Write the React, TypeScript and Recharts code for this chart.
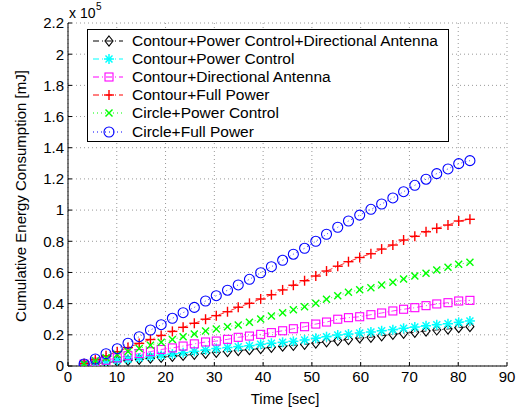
import { LineChart, Line, XAxis, YAxis, CartesianGrid } from "recharts"

// sample times [sec]
const times = [
  3.3, 5.6, 7.8, 10.1, 12.3, 14.6, 16.9, 19.1, 21.4, 23.6, 25.9, 28.2,
  30.4, 32.7, 34.9, 37.2, 39.5, 41.7, 44.0, 46.2, 48.5, 50.8, 53.0, 55.3,
  57.5, 59.8, 62.1, 64.3, 66.6, 68.8, 71.1, 73.4, 75.6, 77.9, 80.1, 82.4,
]

// energy values, in units of 1e5 mJ
const contourPcDa = [
  0.008, 0.015, 0.022, 0.029, 0.036, 0.043, 0.05, 0.056, 0.062, 0.068, 0.075, 0.081,
  0.088, 0.093, 0.099, 0.105, 0.112, 0.12, 0.127, 0.133, 0.139, 0.147, 0.155, 0.163,
  0.17, 0.18, 0.184, 0.194, 0.203, 0.21, 0.216, 0.224, 0.231, 0.237, 0.246, 0.252,
]
const contourPc = [
  0.012, 0.02, 0.028, 0.036, 0.044, 0.052, 0.06, 0.068, 0.076, 0.085, 0.094, 0.103,
  0.112, 0.118, 0.124, 0.13, 0.139, 0.146, 0.152, 0.158, 0.167, 0.178, 0.188, 0.199,
  0.205, 0.212, 0.218, 0.226, 0.233, 0.242, 0.25, 0.258, 0.265, 0.271, 0.28, 0.289,
]
const contourDa = [
  0.012, 0.025, 0.037, 0.052, 0.066, 0.08, 0.092, 0.106, 0.116, 0.128, 0.142, 0.154,
  0.16, 0.171, 0.184, 0.192, 0.203, 0.214, 0.226, 0.239, 0.252, 0.269, 0.282, 0.3,
  0.31, 0.316, 0.329, 0.34, 0.353, 0.364, 0.374, 0.387, 0.398, 0.406, 0.417, 0.421,
]
const contourFull = [
  0.015, 0.04, 0.065, 0.092, 0.118, 0.145, 0.17, 0.196, 0.222, 0.248, 0.274, 0.3,
  0.323, 0.348, 0.377, 0.402, 0.43, 0.457, 0.488, 0.518, 0.547, 0.577, 0.609, 0.64,
  0.669, 0.696, 0.72, 0.75, 0.776, 0.808, 0.832, 0.861, 0.883, 0.904, 0.93, 0.941,
]
const circlePc = [
  0.013, 0.033, 0.053, 0.073, 0.093, 0.113, 0.133, 0.153, 0.17, 0.188, 0.206, 0.224,
  0.237, 0.252, 0.263, 0.28, 0.301, 0.321, 0.342, 0.361, 0.38, 0.402, 0.428, 0.451,
  0.473, 0.489, 0.502, 0.52, 0.537, 0.558, 0.577, 0.595, 0.616, 0.633, 0.652, 0.665,
]
const circleFull = [
  0.013, 0.045, 0.079, 0.111, 0.146, 0.188, 0.231, 0.265, 0.306, 0.342, 0.376, 0.417,
  0.451, 0.486, 0.52, 0.556, 0.598, 0.637, 0.678, 0.717, 0.755, 0.8, 0.845, 0.89,
  0.93, 0.968, 1.005, 1.039, 1.078, 1.118, 1.159, 1.198, 1.234, 1.264, 1.298, 1.317,
]

const xTicks = [0, 10, 20, 30, 40, 50, 60, 70, 80, 90]
const yTicks = [0, 0.2, 0.4, 0.6, 0.8, 1, 1.2, 1.4, 1.6, 1.8, 2, 2.2]

type Shape = "diamond" | "star" | "square" | "plus" | "x" | "circle"

const SERIES: { key: string; name: string; color: string; shape: Shape; dash: string; values: number[] }[] = [
  { key: "a", name: "Contour+Power Control+Directional Antenna", color: "#000000", shape: "diamond", dash: "6 3 1 3", values: contourPcDa },
  { key: "b", name: "Contour+Power Control", color: "#00ffff", shape: "star", dash: "6 3 1 3", values: contourPc },
  { key: "c", name: "Contour+Directional Antenna", color: "#ff00ff", shape: "square", dash: "6 3 1 3", values: contourDa },
  { key: "d", name: "Contour+Full Power", color: "#ff0000", shape: "plus", dash: "6 3 1 3", values: contourFull },
  { key: "e", name: "Circle+Power Control", color: "#00ff00", shape: "x", dash: "1 3", values: circlePc },
  { key: "f", name: "Circle+Full Power", color: "#0000ff", shape: "circle", dash: "1 3", values: circleFull },
]

const data = times.map((t, i) => {
  const row: Record<string, number> = { t }
  SERIES.forEach((s) => (row[s.key] = s.values[i]))
  return row
})

const FONT = "'Liberation Sans', Arial, Helvetica, sans-serif"

function Marker({ shape, color, cx, cy }: { shape: Shape; color: string; cx: number; cy: number }) {
  const sw = 1.1
  switch (shape) {
    case "diamond":
      return <polygon points={`${cx},${cy - 5} ${cx + 4},${cy} ${cx},${cy + 5} ${cx - 4},${cy}`} fill="none" stroke={color} strokeWidth={sw} />
    case "square":
      return <rect x={cx - 4} y={cy - 4} width={8} height={8} fill="none" stroke={color} strokeWidth={sw} />
    case "circle":
      return <circle cx={cx} cy={cy} r={5} fill="none" stroke={color} strokeWidth={sw} />
    case "plus":
      return (
        <g stroke={color} strokeWidth={1.4}>
          <line x1={cx - 5} y1={cy} x2={cx + 5} y2={cy} />
          <line x1={cx} y1={cy - 5} x2={cx} y2={cy + 5} />
        </g>
      )
    case "x":
      return (
        <g stroke={color} strokeWidth={1.4}>
          <line x1={cx - 3.5} y1={cy - 3.5} x2={cx + 3.5} y2={cy + 3.5} />
          <line x1={cx - 3.5} y1={cy + 3.5} x2={cx + 3.5} y2={cy - 3.5} />
        </g>
      )
    case "star":
      return (
        <g stroke={color} strokeWidth={1.5}>
          <line x1={cx - 5} y1={cy} x2={cx + 5} y2={cy} />
          <line x1={cx} y1={cy - 5} x2={cx} y2={cy + 5} />
          <line x1={cx - 3.5} y1={cy - 3.5} x2={cx + 3.5} y2={cy + 3.5} />
          <line x1={cx - 3.5} y1={cy + 3.5} x2={cx + 3.5} y2={cy - 3.5} />
        </g>
      )
  }
  return null
}

function makeDot(shape: Shape, color: string) {
  return (props: any) => {
    const { cx, cy, index } = props
    if (cx == null || cy == null) return <g key={index} />
    return (
      <g key={index}>
        <Marker shape={shape} color={color} cx={cx} cy={cy} />
      </g>
    )
  }
}

function LegendBox() {
  return (
    <div
      style={{
        position: "absolute",
        left: 87,
        top: 29,
        width: 362,
        height: 113,
        border: "1px solid #000",
        background: "#fff",
        boxSizing: "border-box",
        paddingTop: 2,
        fontFamily: FONT,
        fontSize: 15.5,
      }}
    >
      {SERIES.map((s) => (
        <div key={s.key} style={{ height: 18.1, display: "flex", alignItems: "center" }}>
          <svg width={44} height={18} style={{ flex: "none" }}>
            <line x1={5} y1={9} x2={35} y2={9} stroke={s.color} strokeWidth={1} strokeDasharray={s.dash} />
            <Marker shape={s.shape} color={s.color} cx={21} cy={9} />
          </svg>
          <span style={{ whiteSpace: "nowrap", lineHeight: "18px" }}>{s.name}</span>
        </div>
      ))}
    </div>
  )
}

function fmtY(v: number) {
  return String(Number(v.toFixed(1)))
}

export default function App() {
  return (
    <div style={{ position: "absolute", left: 0, top: 0, width: 521, height: 410, background: "#fff" }}>
      <LineChart
        width={521}
        height={410}
        data={data}
        margin={{ top: 23, right: 14, left: 0, bottom: 0 }}
        style={{ fontFamily: FONT }}
      >
        <CartesianGrid stroke="#999" strokeDasharray="1 3" strokeWidth={1} />
        <XAxis
          dataKey="t"
          type="number"
          domain={[0, 90]}
          ticks={xTicks}
          interval={0}
          height={44}
          tickSize={-4}
          tickMargin={9}
          stroke="#000"
          tick={{ fill: "#000", fontSize: 15 }}
          allowDataOverflow
        />
        <YAxis
          type="number"
          domain={[0, 2.2]}
          ticks={yTicks}
          interval={0}
          width={68}
          tickSize={-4}
          tickMargin={8}
          tickFormatter={fmtY}
          stroke="#000"
          tick={{ fill: "#000", fontSize: 15 }}
          allowDataOverflow
        />
        {SERIES.map((s) => (
          <Line
            key={s.key}
            dataKey={s.key}
            name={s.name}
            stroke={s.color}
            strokeWidth={0.8}
            strokeDasharray={s.dash}
            dot={makeDot(s.shape, s.color)}
            activeDot={false}
            isAnimationActive={false}
          />
        ))}
      </LineChart>
      <LegendBox />
      <svg width={521} height={410} style={{ position: "absolute", left: 0, top: 0, pointerEvents: "none" }}>
        <text x={69} y={18} fontFamily={FONT} fontSize={14} fill="#000">
          x 10
        </text>
        <text x={96} y={10} fontFamily={FONT} fontSize={10} fill="#000">
          5
        </text>
        <text x={285} y={404} textAnchor="middle" fontFamily={FONT} fontSize={15} fill="#000">
          Time [sec]
        </text>
        <text
          x={0}
          y={0}
          transform="translate(26,196) rotate(-90)"
          textAnchor="middle"
          fontFamily={FONT}
          fontSize={15}
          fill="#000"
        >
          Cumulative Energy Consumption [mJ]
        </text>
      </svg>
    </div>
  )
}
